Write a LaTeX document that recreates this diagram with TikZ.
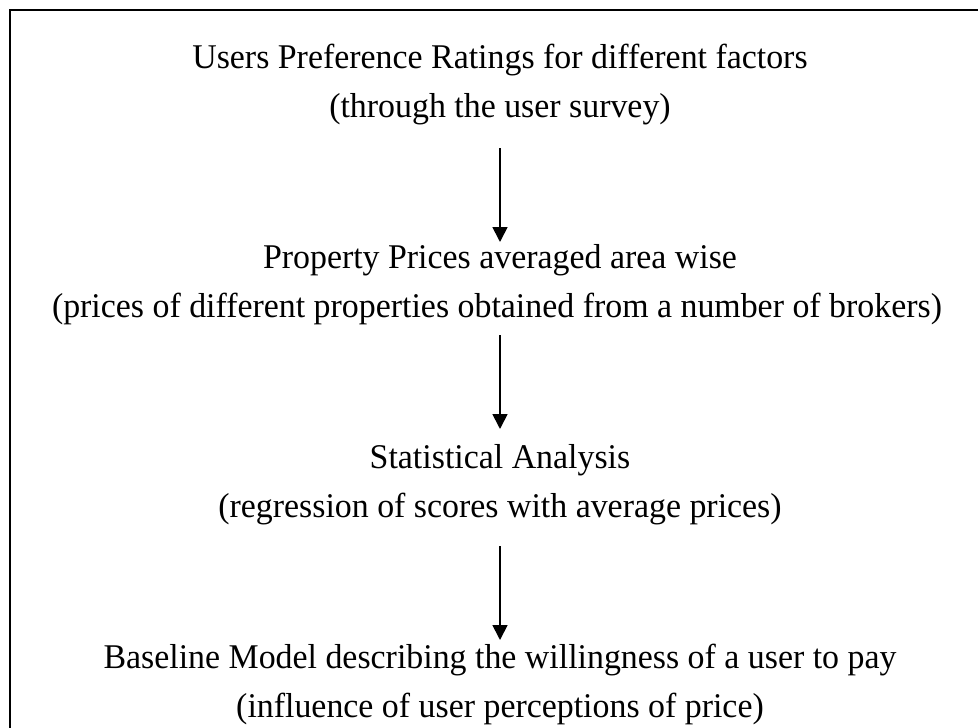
\documentclass[tikz,border=0pt]{standalone}
\usepackage{fontspec}
\usepackage{graphicx}
\setmainfont{Liberation Serif}
\usetikzlibrary{arrows.meta,calc}
% slightly condensed setting of each text line
\newcommand{\cond}[1]{\scalebox{0.977}[1]{#1}}
\begin{document}
\begin{tikzpicture}[x=0.75pt,y=-0.75pt,
  line/.style={font=\fontsize{26}{30}\selectfont,anchor=base,inner sep=0pt},
  flow/.style={line width=1.3pt,-{Triangle[width=11.25pt,length=11.25pt]}},
  frame/.style={line width=1.8pt}]
\useasboundingbox (0,0) rectangle (978,728);
\clip (0,0) rectangle (978,728);
% outer frame (runs past the right and bottom edges)
\draw[frame] (10,10) rectangle (1010,760);
% stage 1
\node[line] (s1a) at (500,68) {\cond{Users Preference Ratings for different factors}};
\node[line] (s1b) at (500,117) {\cond{(through the user survey)}};
% stage 2
\node[line] (s2a) at (500,268) {\cond{Property Prices averaged area wise}};
\node[line] (s2b) at (497,317) {\cond{(prices of different properties obtained from a number of brokers)}};
% stage 3
\node[line] (s3a) at (500,468) {\cond{Statistical Analysis}};
\node[line] (s3b) at (500,517) {\cond{(regression of scores with average prices)}};
% stage 4
\node[line] (s4a) at (500,668) {\cond{Baseline Model describing the willingness of a user to pay}};
\node[line] (s4b) at (500,717) {\cond{(influence of user perceptions of price)}};
% connectors
\draw[flow] ($(s1b.base)+(0,31)$) -- ($(s2a.base)-(0,26)$);
\draw[flow] ($(s2b.base)+(3,18)$) -- ($(s3a.base)-(0,39)$);
\draw[flow] ($(s3b.base)+(0,29)$) -- ($(s4a.base)-(0,28)$);
\end{tikzpicture}
\end{document}
